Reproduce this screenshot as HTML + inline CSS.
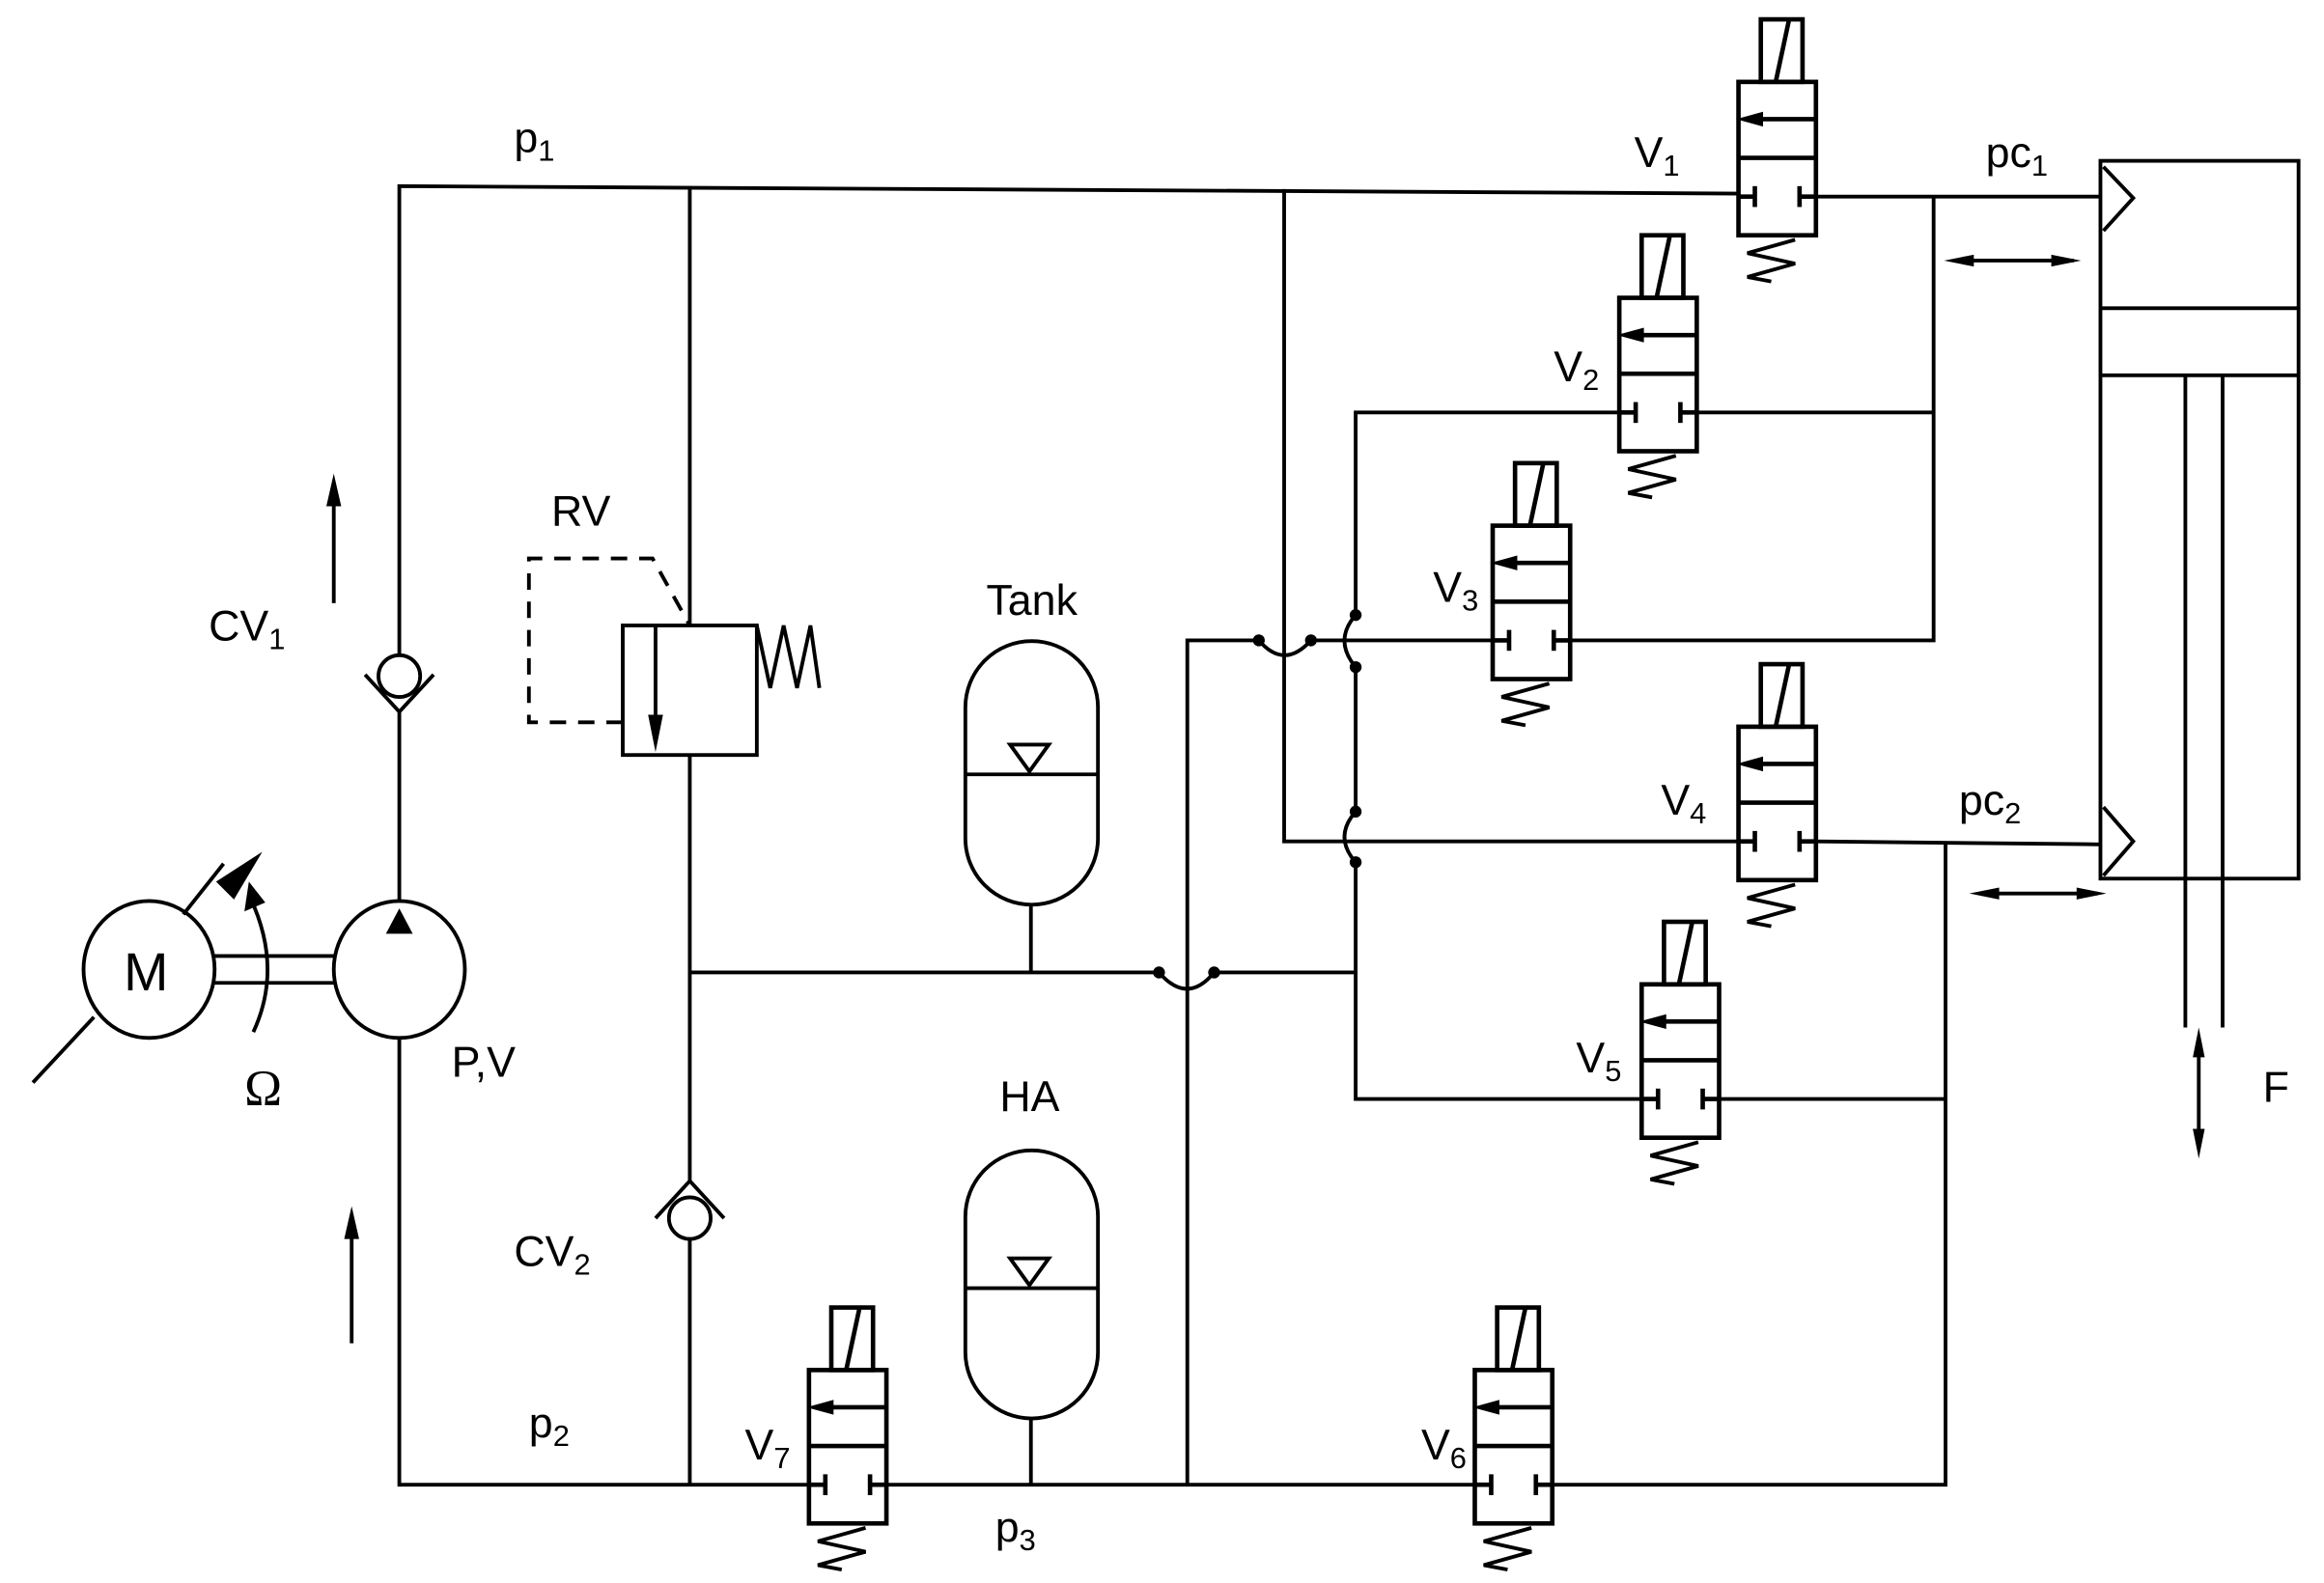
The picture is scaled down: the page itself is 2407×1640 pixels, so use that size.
<!DOCTYPE html>
<html><head><meta charset="utf-8"><style>
html,body{margin:0;padding:0;background:#fff}
svg{display:block}
text{font-family:"Liberation Sans","DejaVu Sans",sans-serif;font-size:29px;fill:#000}
.s{font-size:20px}
</style></head><body>
<svg width="2407" height="1640" viewBox="0 0 1560 1063" xmlns="http://www.w3.org/2000/svg">
<defs>
<g id="valve" fill="none" stroke="#000" stroke-width="3">
<rect x="0" y="0" width="52" height="103"/>
<line x1="0" y1="51" x2="52" y2="51"/>
<line x1="4" y1="25" x2="52" y2="25"/>
<polygon points="4,25 15,22 15,28" fill="#000"/>
<rect x="15" y="-42" width="28" height="42"/>
<line x1="34" y1="-42" x2="25" y2="0"/>
<line x1="0" y1="77" x2="11" y2="77"/>
<line x1="11" y1="70" x2="11" y2="84"/>
<line x1="41" y1="77" x2="52" y2="77"/>
<line x1="41" y1="70" x2="41" y2="84"/>
<polyline points="38,106 6,115 38,122 6,131 22,134" stroke-width="2.5"/>
</g>
</defs>
<g fill="none" stroke="#000" stroke-width="2.5">
<polyline points="268,440 268,125 1167,130"/>
<line x1="1218" y1="132" x2="1410" y2="132"/>
<line x1="268" y1="478" x2="268" y2="606"/>
<polyline points="268,697 268,997 543,997"/>
<line x1="594" y1="997" x2="990" y2="997"/>
<polyline points="1041,997 1306,997 1306,565"/>
<line x1="463" y1="125" x2="463" y2="420"/>
<line x1="463" y1="507" x2="463" y2="793"/>
<line x1="463" y1="832" x2="463" y2="997"/>
<line x1="463" y1="653" x2="778" y2="653"/>
<path d="M778,653 Q797,675 815,653"/>
<line x1="815" y1="653" x2="910" y2="653"/>
<line x1="692" y1="653" x2="692" y2="608"/>
<line x1="692" y1="952" x2="692" y2="997"/>
<polyline points="797,997 797,430 845,430"/>
<path d="M845,430 Q862,450 880,430"/>
<line x1="880" y1="430" x2="1002" y2="430"/>
<polyline points="862,127 862,565 1167,565"/>
<polyline points="910,413 910,277 1088,277"/>
<path d="M910,413 Q895,430 910,448"/>
<line x1="910" y1="448" x2="910" y2="545"/>
<path d="M910,545 Q895,562 910,579"/>
<polyline points="910,579 910,738 1102,738"/>
<line x1="1153" y1="738" x2="1306" y2="738"/>
<polyline points="1138,277 1298,277"/>
<polyline points="1298,132 1298,430 1054,430"/>
<line x1="1218" y1="565" x2="1410" y2="567"/>
</g>
<g fill="#000">
<circle cx="845" cy="430" r="4"/><circle cx="880" cy="430" r="4"/>
<circle cx="910" cy="413" r="4"/><circle cx="910" cy="448" r="4"/>
<circle cx="910" cy="545" r="4"/><circle cx="910" cy="579" r="4"/>
<circle cx="778" cy="653" r="4"/><circle cx="815" cy="653" r="4"/>
</g>
<use href="#valve" x="1167" y="55"/>
<use href="#valve" x="1087" y="200"/>
<use href="#valve" x="1002" y="353"/>
<use href="#valve" x="1167" y="488"/>
<use href="#valve" x="1102" y="661"/>
<use href="#valve" x="990" y="920"/>
<use href="#valve" x="543" y="920"/>
<g fill="none" stroke="#000" stroke-width="2.5">
<rect x="1410" y="108" width="133" height="482"/>
<line x1="1410" y1="207" x2="1543" y2="207"/>
<line x1="1410" y1="252" x2="1543" y2="252"/>
<line x1="1467" y1="252" x2="1467" y2="690"/>
<line x1="1492" y1="252" x2="1492" y2="690"/>
<polyline points="1412,112 1432,133 1412,155"/>
<polyline points="1412,542 1432,565 1412,588"/>
<line x1="1312" y1="175" x2="1392" y2="175"/>
<line x1="1330" y1="600" x2="1408" y2="600"/>
<line x1="1476" y1="698" x2="1476" y2="770"/>
<path d="M648,475 A44.5,44.5 0 0 1 737,475 L737,563 A44.5,44.5 0 0 1 648,563 Z"/>
<line x1="648" y1="520" x2="737" y2="520"/>
<polygon points="678,500 704,500 691,518"/>
<path d="M648,817 A44.5,44.5 0 0 1 737,817 L737,908 A44.5,44.5 0 0 1 648,908 Z"/>
<line x1="648" y1="865" x2="737" y2="865"/>
<polygon points="678,845 704,845 691,863"/>
<rect x="418" y="420" width="90" height="87"/>
<line x1="440" y1="420" x2="440" y2="490"/>
<polyline points="508,420 517,462 526,420 535,462 544,420 550,462"/>
<polyline points="418,485 355,485 355,375 438,375 463,420" stroke-dasharray="11,8"/>
<circle cx="268" cy="454" r="14"/>
<polyline points="245,453 268,478 291,453"/>
<circle cx="463" cy="818" r="14"/>
<polyline points="440,818 463,793 486,818"/>
<ellipse cx="268" cy="651" rx="44" ry="46"/>
<ellipse cx="100" cy="651" rx="44" ry="46"/>
<line x1="144" y1="642" x2="224" y2="642"/>
<line x1="144" y1="660" x2="224" y2="660"/>
<line x1="22" y1="727" x2="63" y2="683"/>
<line x1="123" y1="614" x2="150" y2="580"/>
<path d="M168,603 Q190,650 170,693"/>
<line x1="224" y1="405" x2="224" y2="335"/>
<line x1="236" y1="902" x2="236" y2="828"/>
</g>
<g fill="#000">
<polygon points="1305,175 1325,171 1325,179"/><polygon points="1397,175 1377,171 1377,179"/>
<polygon points="1322,600 1342,596 1342,604"/><polygon points="1414,600 1394,596 1394,604"/>
<polygon points="1476,690 1472,710 1480,710"/><polygon points="1476,778 1472,758 1480,758"/>
<polygon points="440,505 435,480 445,480"/>
<polygon points="268,610 259,627 277,627"/>
<polygon points="176,572 145,592 157,604"/>
<polygon points="167,592 164,612 178,606"/>
<polygon points="224,318 219,340 229,340"/>
<polygon points="236,810 231,832 241,832"/>
</g>
<text x="345" y="102">p<tspan class="s" dy="6">1</tspan></text>
<text x="1097" y="112">V<tspan class="s" dy="6">1</tspan></text>
<text x="1333" y="112">pc<tspan class="s" dy="6">1</tspan></text>
<text x="1043" y="256">V<tspan class="s" dy="6">2</tspan></text>
<text x="962" y="404">V<tspan class="s" dy="6">3</tspan></text>
<text x="662" y="413">Tank</text>
<text x="370" y="353">RV</text>
<text x="140" y="430">CV<tspan class="s" dy="6">1</tspan></text>
<text x="303" y="723">P,V</text>
<text x="164" y="742" style="font-family:'Liberation Serif',serif;font-size:34px">Ω</text>
<text x="83" y="665" style="font-size:36px">M</text>
<text x="671" y="746">HA</text>
<text x="345" y="850">CV<tspan class="s" dy="6">2</tspan></text>
<text x="355" y="965">p<tspan class="s" dy="6">2</tspan></text>
<text x="500" y="980">V<tspan class="s" dy="6">7</tspan></text>
<text x="668" y="1035">p<tspan class="s" dy="6">3</tspan></text>
<text x="954" y="980">V<tspan class="s" dy="6">6</tspan></text>
<text x="1058" y="720">V<tspan class="s" dy="6">5</tspan></text>
<text x="1115" y="547">V<tspan class="s" dy="6">4</tspan></text>
<text x="1315" y="547">pc<tspan class="s" dy="6">2</tspan></text>
<text x="1519" y="740">F</text>
</svg>
</body></html>
